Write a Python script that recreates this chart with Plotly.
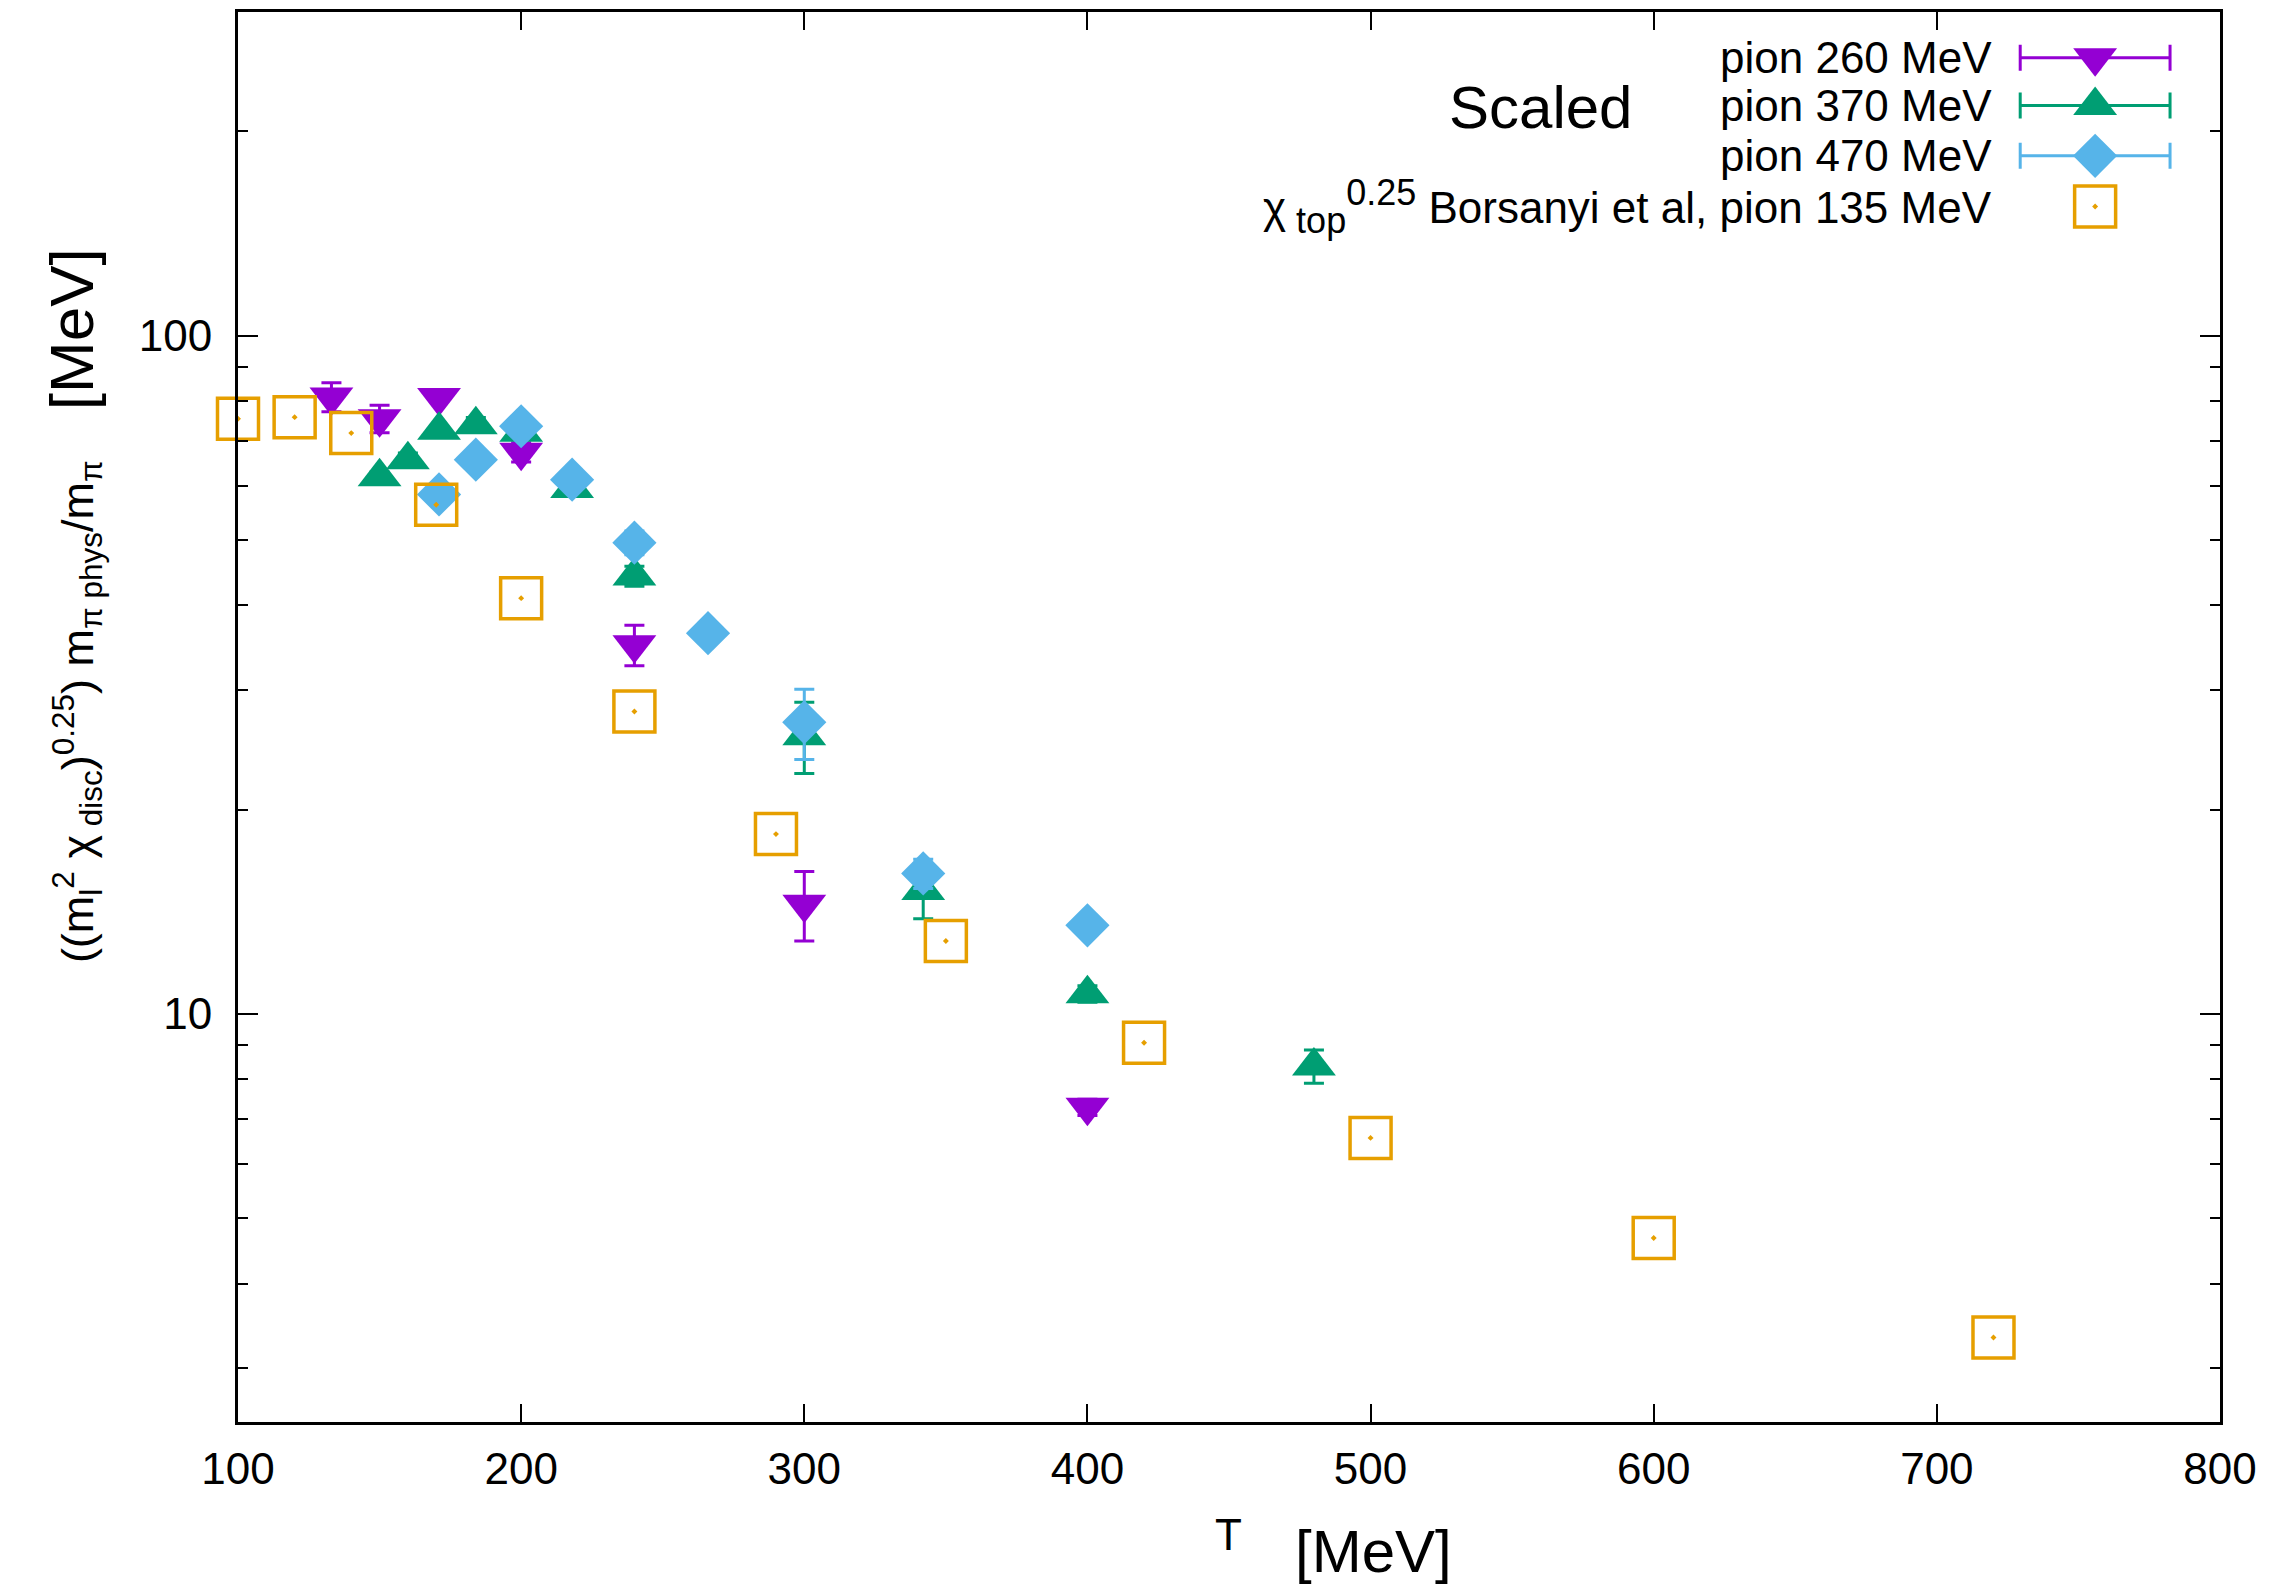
import plotly.graph_objects as go

# ---- data -------------------------------------------------------------
# pion 260 MeV
T_260 = [133, 150, 171, 200, 240, 300, 400]
v_260 = [81.2, 75.4, 81.0, 67.3, 35.0, 14.5, 7.28]
e_260 = [4.0, 3.5, 1.0, 2.2, 2.4, 1.7, 0.2]

# pion 370 MeV
T_370 = [150, 160, 171, 184, 200, 218, 240, 300, 342, 400, 480]
v_370 = [61.9, 65.6, 72.5, 73.9, 72.0, 59.5, 44.2, 25.7, 15.2, 10.7, 8.37]
e_370 = [1.0, 1.5, 1.0, 1.8, 1.5, 1.0, 1.5, 3.1, 1.4, 0.3, 0.47]

# pion 470 MeV
T_470 = [171, 184, 200, 218, 240, 266, 300, 342, 400]
v_470 = [58.3, 65.6, 73.5, 61.3, 49.5, 36.4, 26.9, 16.1, 13.5]
e_470 = [1.0, 2.0, 2.0, 2.0, 2.0, 1.0, 3.2, 0.8, 0.3]

# Borsanyi et al, chi_top^0.25 at physical pion mass
T_bor = [100, 120, 140, 170, 200, 240, 290, 350, 420, 500, 600, 720]
v_bor = [75.4, 75.8, 71.8, 56.3, 41.0, 27.9, 18.4, 12.8, 9.06, 6.56, 4.67, 3.33]

x_ticks = [100, 200, 300, 400, 500, 600, 700, 800]
y_ticks = [10, 100]
y_minor = [3, 4, 5, 6, 7, 8, 9, 20, 30, 40, 50, 60, 70, 80, 90, 200]

labels = [
    "pion 260 MeV",
    "pion 370 MeV",
    "pion 470 MeV",
    ("χ<sub><span style=\"font-size:36px\"> top</span></sub>"
     "<sup><span style=\"font-size:36px\">0.25</span></sup> "
     "Borsanyi et al, pion 135 MeV"),
]

# ---- styles -----------------------------------------------------------
FONT = "Liberation Sans, Arial, Helvetica, sans-serif"
C_260 = "#9400D3"
C_370 = "#009E73"
C_470 = "#56B4E9"
C_BOR = "#E69F00"

styles = [
    dict(color=C_260, symbol="triangle-down", size=38),
    dict(color=C_370, symbol="triangle-up", size=38),
    dict(color=C_470, symbol="diamond", size=34),
    dict(color=C_BOR, symbol="square-open-dot", size=41),
]

fig = go.Figure()

series = [(T_260, v_260, e_260), (T_370, v_370, e_370), (T_470, v_470, e_470)]
for (tx, vy, ey), st in zip(series, styles[:3]):
    fig.add_trace(go.Scatter(
        x=tx, y=vy, mode="markers", cliponaxis=False,
        marker=dict(color=st["color"], symbol=st["symbol"], size=st["size"],
                    line=dict(width=0)),
        error_y=dict(type="data", array=ey, visible=True,
                     color=st["color"], thickness=3, width=10),
        showlegend=False,
    ))

fig.add_trace(go.Scatter(
    x=T_bor, y=v_bor, mode="markers", cliponaxis=False,
    marker=dict(color=C_BOR, symbol="square-open-dot", size=41,
                line=dict(width=3.5, color=C_BOR)),
    showlegend=False,
))

# ---- key: samples drawn on an overlay axis in [0,1] units -------------
key_x = 0.937
key_rows = [0.9675, 0.9336, 0.898, 0.862]
key_half = 0.0378
for i, (st, ry) in enumerate(zip(styles, key_rows)):
    if i < 3:
        fig.add_trace(go.Scatter(
            x=[key_x], y=[ry], xaxis="x2", yaxis="y2", mode="markers",
            marker=dict(color=st["color"], symbol=st["symbol"], size=st["size"],
                        line=dict(width=0)),
            error_x=dict(type="data", array=[key_half], visible=True,
                         color=st["color"], thickness=3, width=13),
            showlegend=False, hoverinfo="skip",
        ))
    else:
        fig.add_trace(go.Scatter(
            x=[key_x], y=[ry], xaxis="x2", yaxis="y2", mode="markers",
            marker=dict(color=st["color"], symbol=st["symbol"], size=st["size"],
                        line=dict(width=3.5, color=st["color"])),
            showlegend=False, hoverinfo="skip",
        ))
    fig.add_annotation(
        x=0.886, y=ry, xref="x2", yref="y2", xanchor="right", yanchor="middle",
        text=labels[i], showarrow=False,
        font=dict(family=FONT, size=44, color="black"),
    )

fig.add_annotation(
    x=0.6574, y=0.932, xref="paper", yref="paper",
    xanchor="center", yanchor="middle", text="Scaled", showarrow=False,
    font=dict(family=FONT, size=60, color="black"),
)

# axis titles
fig.add_annotation(
    x=0.4995, y=-0.080, xref="paper", yref="paper",
    xanchor="center", yanchor="middle", text="T", showarrow=False,
    font=dict(family=FONT, size=44, color="black"),
)
fig.add_annotation(
    x=0.573, y=-0.092, xref="paper", yref="paper",
    xanchor="center", yanchor="middle", text="[MeV]", showarrow=False,
    font=dict(family=FONT, size=60, color="black"),
)
fig.add_annotation(
    x=-0.0835, y=0.579, xref="paper", yref="paper",
    xanchor="center", yanchor="middle", textangle=-90, showarrow=False,
    text=("((m<sub>l</sub><sup>2</sup> χ<sub> disc</sub>)<sup>0.25</sup>) "
          "m<sub>π phys</sub>/m<sub>π</sub>\u00a0\u00a0\u00a0 "
          "<span style=\"font-size:62px\">[MeV]</span>"),
    font=dict(family=FONT, size=45, color="black"),
)

axis_common = dict(
    showline=True, linecolor="black", linewidth=3, mirror="allticks",
    ticks="inside", tickcolor="black", tickwidth=2,
    showgrid=False, zeroline=False,
    tickfont=dict(family=FONT, size=44, color="black"),
)

fig.update_layout(
    width=2292, height=1588,
    margin=dict(l=238, r=72, t=9, b=166),
    paper_bgcolor="white", plot_bgcolor="white",
    xaxis=dict(range=[100, 800], tickvals=x_ticks, ticklen=18,
               ticklabelstandoff=6, **axis_common),
    yaxis=dict(type="log", range=[0.39794, 2.4771], tickvals=y_ticks,
               ticktext=[str(v) for v in y_ticks], ticklen=20,
               ticklabelstandoff=14,
               minor=dict(tickvals=y_minor, ticks="inside", ticklen=10,
                          tickwidth=2, tickcolor="black"),
               **axis_common),
    xaxis2=dict(overlaying="x", range=[0, 1], visible=False),
    yaxis2=dict(overlaying="y", range=[0, 1], visible=False),
    showlegend=False,
)

fig.write_html("out.html")
